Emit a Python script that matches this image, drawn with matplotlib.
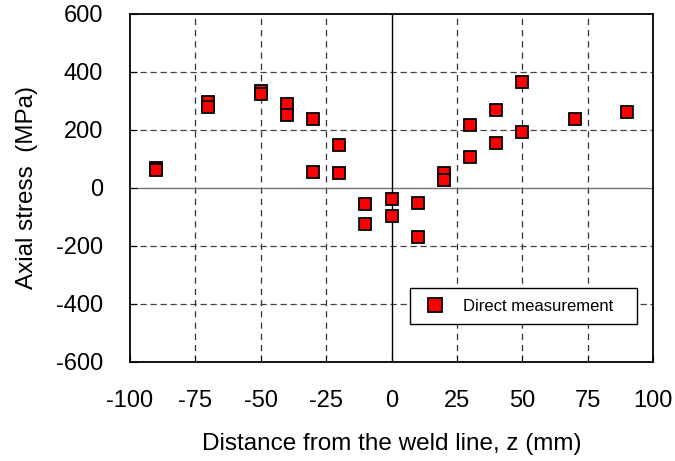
import matplotlib
matplotlib.use("Agg")
import matplotlib.pyplot as plt
from matplotlib.lines import Line2D

# direct measurements of axial stress along the weld
z_mm = [-90, -90, -70, -70, -50, -50, -40, -40, -30, -30, -20, -20,
        -10, -10, 0, 0, 10, 10, 20, 20, 30, 30, 40, 40, 50, 50, 70, 90]
stress_mpa = [70, 62, 295, 278, 335, 325, 290, 250, 239, 56, 148, 52,
              -56, -125, -39, -95, -51, -170, 51, 28, 216, 108, 268, 154,
              364, 193, 239, 262]

x_ticks = [-100, -75, -50, -25, 0, 25, 50, 75, 100]
y_ticks = [-600, -400, -200, 0, 200, 400, 600]

plt.rcParams['font.family'] = ['Liberation Sans', 'DejaVu Sans']
plt.rcParams['axes.unicode_minus'] = False

fig = plt.figure(figsize=(6.75, 4.61), dpi=100)
ax = fig.add_axes([0.192, 0.2148, 0.776, 0.755])

for x in x_ticks[1:-1]:
    if x != 0:
        ax.axvline(x, color='0.2', lw=0.9, ls=(0, (5, 4)), zorder=1)
for y in y_ticks[1:-1]:
    if y != 0:
        ax.axhline(y, color='0.25', lw=0.9, ls=(0, (5, 3)), zorder=1)
ax.axhline(0, color='0.45', lw=1.0, zorder=1)
ax.axvline(0, color='black', lw=1.0, zorder=1)

ax.plot(z_mm, stress_mpa, ls='none', marker='s', ms=8.6, mfc='#ff0000',
        mec='black', mew=1.3, zorder=3)

ax.set_xlim(-100, 100)
ax.set_ylim(-600, 600)
ax.set_xticks(x_ticks)
ax.set_yticks(y_ticks)
ax.tick_params(direction='in', length=5, width=0.8, labelsize=17)
ax.tick_params(axis='x', pad=20)
ax.tick_params(axis='y', pad=19)
for s in ax.spines.values():
    s.set_linewidth(1.3)

ax.set_xlabel('Distance from the weld line, z (mm)', fontsize=17.5, labelpad=15)
ax.set_ylabel('Axial stress  (MPa)', fontsize=17.5, labelpad=13)

handle = Line2D([], [], ls='none', marker='s', ms=10, mfc='#ff0000',
                mec='black', mew=1.3)
leg = ax.legend([handle], ['Direct measurement'], loc='lower left',
                bbox_to_anchor=(0.535, 0.108, 0.433, 0.104), mode='expand',
                fancybox=False, framealpha=1, edgecolor='black',
                prop={'size': 12}, handlelength=1.74, handletextpad=0.81,
                borderaxespad=0, borderpad=0.63)
leg.get_frame().set_linewidth(1.0)

fig.savefig('out.png', dpi=100)
